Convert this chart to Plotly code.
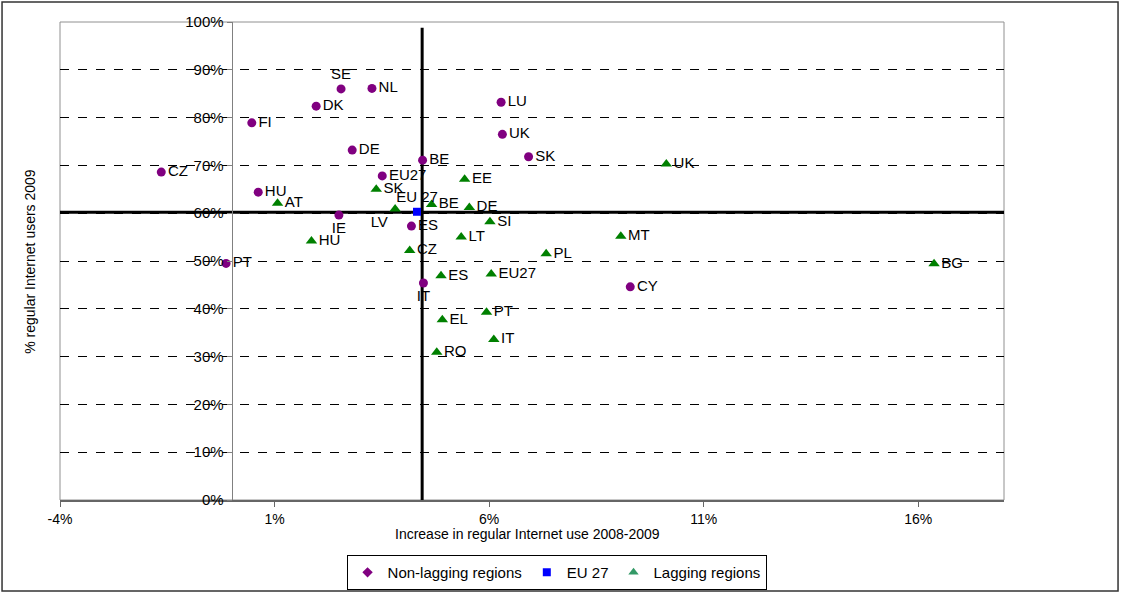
import plotly.graph_objects as go

# ---------------- data ----------------
nonlag_labels = ["SE", "NL", "DK", "FI", "DE", "CZ", "HU", "IE", "PT", "LU",
                 "UK", "BE", "SK", "EU27", "ES", "IT", "CY"]
nonlag_x = [2.55, 3.27, 1.97, 0.47, 2.81, -1.64, 0.62, 2.50, -0.13, 6.28,
            6.31, 4.45, 6.92, 3.51, 4.19, 4.47, 9.29]
nonlag_y = [86.0, 86.1, 82.4, 78.9, 73.2, 68.6, 64.4, 59.6, 49.5, 83.2,
            76.5, 71.1, 71.8, 67.8, 57.3, 45.4, 44.6]

lag_labels = ["AT", "HU", "SK", "LV", "BE", "DE", "EE", "UK", "SI", "LT",
              "MT", "CZ", "PL", "ES", "EU27", "BG", "PT", "EL", "IT", "RO"]
lag_x = [1.07, 1.86, 3.37, 3.81, 4.66, 5.54, 5.43, 10.13, 6.02, 5.35,
         9.07, 4.15, 7.33, 4.88, 6.05, 16.37, 5.94, 4.91, 6.11, 4.78]
lag_y = [62.1, 54.2, 65.0, 60.9, 61.8, 61.2, 67.1, 70.3, 58.2, 55.0,
         55.2, 52.2, 51.5, 46.9, 47.3, 49.4, 39.3, 37.7, 33.6, 30.9]

eu_labels = ["EU 27"]
eu_x = [4.32]
eu_y = [60.3]

avg_x = 4.44   # vertical reference line (EU27 increase)
avg_y = 60.2   # horizontal reference line (EU27 level)

x_ticks = [-4, 1, 6, 11, 16]
y_ticks = [0, 10, 20, 30, 40, 50, 60, 70, 80, 90, 100]

# ---------------- styles ----------------
FONT = "Arial, Liberation Sans, sans-serif"
PURPLE = "#800080"
GREEN = "#008000"
BLUE = "#0000FF"

nonlag_pos = ["middle right"] * len(nonlag_labels)
for lab, pos in [("SE", "top center"), ("IE", "bottom center"), ("IT", "bottom center")]:
    nonlag_pos[nonlag_labels.index(lab)] = pos
lag_pos = ["middle right"] * len(lag_labels)
lag_pos[lag_labels.index("LV")] = "bottom left"

fig = go.Figure()

fig.add_trace(go.Scatter(
    x=nonlag_x, y=nonlag_y, mode="markers+text", text=nonlag_labels,
    textposition=nonlag_pos, textfont=dict(family=FONT, size=15, color="black"),
    marker=dict(symbol="circle", size=9, color=PURPLE),
    showlegend=False, cliponaxis=False))

fig.add_trace(go.Scatter(
    x=lag_x, y=lag_y, mode="markers+text", text=lag_labels,
    textposition=lag_pos, textfont=dict(family=FONT, size=15, color="black"),
    marker=dict(symbol="triangle-up", size=10, color=GREEN),
    showlegend=False, cliponaxis=False))

fig.add_trace(go.Scatter(
    x=eu_x, y=eu_y, mode="markers+text", text=eu_labels,
    textposition="top center", textfont=dict(family=FONT, size=15, color="black"),
    marker=dict(symbol="square", size=8, color=BLUE),
    showlegend=False, cliponaxis=False))

# legend-only entries (legend uses diamond / square / triangle)
fig.add_trace(go.Scatter(x=[None], y=[None], mode="markers", name="Non-lagging regions",
                         marker=dict(symbol="diamond", size=8, color=PURPLE)))
fig.add_trace(go.Scatter(x=[None], y=[None], mode="markers", name="EU 27",
                         marker=dict(symbol="square", size=8, color=BLUE)))
fig.add_trace(go.Scatter(x=[None], y=[None], mode="markers", name="Lagging regions",
                         marker=dict(symbol="triangle-up", size=9, color="#339966")))

x_min, x_max = -4, 18
y_min, y_max = 0, 100

shapes = [
    # plot-area border
    dict(type="rect", xref="paper", yref="paper", x0=0, x1=1, y0=0, y1=1,
         line=dict(color="#909090", width=1), layer="below"),
    # outer chart frame
    dict(type="rect", xref="paper", yref="paper", x0=-0.0614, x1=1.1208,
         y0=-0.1904, y1=1.0418, line=dict(color="#333333", width=1.5)),
    # reference lines
    dict(type="line", xref="x", yref="y", x0=x_min, x1=x_max, y0=avg_y, y1=avg_y,
         line=dict(color="black", width=3), layer="between"),
    dict(type="line", xref="x", yref="y", x0=avg_x, x1=avg_x, y0=0, y1=98.8,
         line=dict(color="black", width=3), layer="between"),
]

fig.update_layout(
    width=1121, height=593, autosize=False,
    margin=dict(l=60, r=117, t=22, b=93, autoexpand=False),
    paper_bgcolor="white", plot_bgcolor="white",
    font=dict(family=FONT, size=14, color="black"),
    xaxis=dict(range=[x_min, x_max], tickmode="array", tickvals=x_ticks,
               ticktext=[f"{v}%" for v in x_ticks], showgrid=False, zeroline=False,
               showline=True, linecolor="#666666", linewidth=2,
               ticks="outside", ticklen=5, tickcolor="#666666",
               tickfont=dict(family=FONT, size=14), automargin=False),
    yaxis=dict(range=[y_min, y_max], tickmode="array", tickvals=y_ticks,
               ticktext=[f"{v}%" for v in y_ticks],
               anchor="free", position=(0 - x_min) / (x_max - x_min),
               showgrid=True, gridcolor="black", griddash="dash", gridwidth=1,
               zeroline=False, showline=True, linecolor="#808080", linewidth=1,
               ticks="outside", ticklen=5, tickcolor="#808080",
               tickfont=dict(family=FONT, size=15), automargin=False),
    shapes=shapes,
    showlegend=True,
    legend=dict(orientation="h", x=0.526, xanchor="center", y=-0.1885, yanchor="bottom",
                bordercolor="black", borderwidth=1, bgcolor="white",
                font=dict(family=FONT, size=15), itemwidth=30, tracegroupgap=0),
    annotations=[
        dict(text="Increase in regular Internet use 2008-2009", xref="paper", yref="paper",
             x=0.495, y=-0.072, xanchor="center", yanchor="middle", showarrow=False,
             font=dict(family=FONT, size=14)),
        dict(text="% regular Internet users 2009", xref="paper", yref="paper",
             x=-0.032, y=0.5, xanchor="center", yanchor="middle", textangle=-90,
             showarrow=False, font=dict(family=FONT, size=14)),
    ],
    hovermode=False,
)

fig.write_html("out.html", config={"displayModeBar": False},
               post_script="document.body.style.margin='0';")
